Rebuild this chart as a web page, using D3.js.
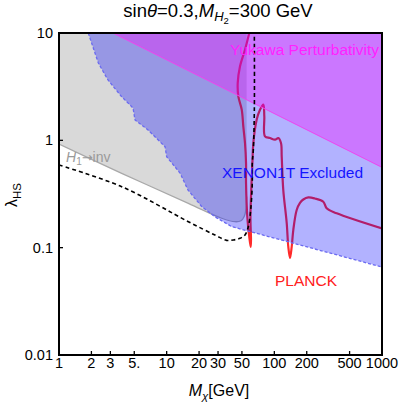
<!DOCTYPE html>
<html><head><meta charset="utf-8">
<script src="https://cdn.jsdelivr.net/npm/d3@7"></script>
<style>body{margin:0;background:#fff}svg{display:block;font-family:"Liberation Sans",Arial,sans-serif}</style>
</head><body><svg id="c" width="399" height="405"></svg>
<script>
// ---- data ----
const xTicks = [1, 2, 3, 5, 10, 20, 30, 50, 100, 200, 500, 1000];
const xTickLabels = ["1", "2", "3", "5.", "10", "20", "30", "50", "100", "200", "500", "1000"];
const yTicks = [0.01, 0.1, 1, 10];
const yTickLabels = ["0.01", "0.1", "1", "10"];

// XENON1T exclusion boundary (region above excluded)
const xenonBoundary = [[1.87,10],[2.32,5.25],[2.85,3.65],[3.82,2.55],[4.87,2.0],[5.08,1.55],[6.71,1.25],[9.66,0.873],[10.0,0.704],[13.3,0.496],[15.8,0.344],[21.2,0.241],[28.1,0.194],[40.2,0.157],[1000,0.066]];
// H1 -> invisible excluded region boundary
const h1invBoundary = [[1,0.924],[3.82,0.493],[15.9,0.259],[32.4,0.188],[43.1,0.1745],[49,0.178],[52.5,0.195],[54.6,0.23],[55.3,0.3],[55.3,10]];
// Yukawa perturbativity boundary
const yukawaBoundary = [[3.17,10],[1000,0.56]];
// PLANCK relic density curve
const planckCurve = [[58.5,10],[53.4,6.99],[48.0,4.89],[45.7,3.42],[46.3,2.57],[49.8,1.93],[51.5,1.35],[53.4,0.944],[54.6,0.615],[54.6,0.400],[56.1,0.1943],[58.5,0.1265],[60.3,0.1014],
  [60.7,0.1179],[60.0,0.1943],[61.4,0.400],[62.7,0.656],[63.8,0.944],[68.6,1.56],[73.6,1.93],[79.0,2.15],[80.7,1.67],[81.9,1.09],[91.1,1.05],[101.4,1.014],[108.8,1.05],[115.3,0.944],[117.1,0.704],[121.1,0.344],[130.3,0.1698],[134.8,0.1021],[139.8,0.0801],[145.0,0.1021],[150.0,0.146],[161.3,0.2244],[173.1,0.261],[185.8,0.281],[206.8,0.294],[238.6,0.287],[284.9,0.268],[306.4,0.2327],[379.6,0.209],[1000,0.1509]];
// black dashed curve
const dashedCurve = [[1,0.589],[3.82,0.37],[15.9,0.1745],[28.1,0.131],[36,0.117],[41.6,0.1179],[48.0,0.1223],[53.4,0.1312],[57.3,0.1568],[60.3,0.2244],[62.4,0.400],[62.4,0.615],[63.8,0.813],[65.2,1.93],[65.2,10]];

// ---- layout ----
const L = 59, R = 382, T = 33, B = 355;
const svg = d3.select("#c");
const x = d3.scaleLog().domain([1, 1000]).range([L, R]);
const y = d3.scaleLog().domain([0.01, 10]).range([B, T]);
const line = d3.line().x(d => x(d[0])).y(d => y(d[1]));
const smooth = d3.line().x(d => x(d[0])).y(d => y(d[1])).curve(d3.curveCatmullRom.alpha(0.5));

svg.append("defs").append("clipPath").attr("id", "clip")
  .append("rect").attr("x", L).attr("y", T).attr("width", R - L).attr("height", B - T);
const g = svg.append("g").attr("clip-path", "url(#clip)");

// gray H1->inv region
g.append("path").attr("d", line([[1,10], ...h1invBoundary, [55.3,10]]) + "Z")
  .attr("fill", "#d9d9d9").attr("stroke", "none");
g.append("path").attr("d", smooth(h1invBoundary.slice(0, 9)))
  .attr("fill", "none").attr("stroke", "#a8a8a8").attr("stroke-width", 1.3);

// PLANCK line (under overlays)
g.append("path").attr("d", smooth(planckCurve))
  .attr("fill", "none").attr("stroke", "#ff2a2a").attr("stroke-width", 2.2).attr("stroke-linejoin", "round");

// XENON region
g.append("path").attr("d", line([...xenonBoundary, [1000,10]]) + "Z")
  .attr("fill", "rgba(0,0,255,0.3)");
// Yukawa region
g.append("path").attr("d", line([...yukawaBoundary, [1000,10]]) + "Z")
  .attr("fill", "rgba(255,0,255,0.33)");

// boundaries
g.append("path").attr("d", line(xenonBoundary))
  .attr("fill", "none").attr("stroke", "#6a6af0").attr("stroke-width", 1.3).attr("stroke-dasharray", "3,2");
g.append("path").attr("d", line(yukawaBoundary))
  .attr("fill", "none").attr("stroke", "#ee44ee").attr("stroke-width", 1);
g.append("path").attr("d", smooth(dashedCurve))
  .attr("fill", "none").attr("stroke", "#000").attr("stroke-width", 1.6).attr("stroke-dasharray", "4,3");

// frame
svg.append("rect").attr("x", L).attr("y", T).attr("width", R - L).attr("height", B - T)
  .attr("fill", "none").attr("stroke", "#000").attr("stroke-width", 2);

// ticks
xTicks.forEach((t, i) => {
  svg.append("line").attr("x1", x(t)).attr("x2", x(t)).attr("y1", B).attr("y2", B - 4)
    .attr("stroke", "#000").attr("stroke-width", 1.3);
  svg.append("text").attr("x", x(t)).attr("y", 368).attr("text-anchor", "middle")
    .attr("font-size", 14.5).text(xTickLabels[i]);
});
yTicks.forEach((t, i) => {
  svg.append("line").attr("x1", L).attr("x2", L + 4).attr("y1", y(t)).attr("y2", y(t))
    .attr("stroke", "#000").attr("stroke-width", 1.3);
  svg.append("text").attr("x", 53).attr("y", y(t) + 5).attr("text-anchor", "end")
    .attr("font-size", 14.5).text(yTickLabels[i]);
});

// title
const title = svg.append("text").attr("x", 218).attr("y", 17).attr("text-anchor", "middle").attr("font-size", 18.5);
title.append("tspan").text("sin");
title.append("tspan").attr("font-style", "italic").text("θ");
title.append("tspan").text("=0.3,");
title.append("tspan").attr("font-style", "italic").text("M");
title.append("tspan").attr("font-style", "italic").attr("font-size", 13).attr("dy", 4).text("H");
title.append("tspan").attr("font-size", 9.5).attr("dy", 3).text("2");
title.append("tspan").attr("dy", -7).text("=300 GeV");

// axis titles
const xl = svg.append("text").attr("x", 219).attr("y", 396).attr("text-anchor", "middle").attr("font-size", 16);
xl.append("tspan").attr("font-style", "italic").text("M");
xl.append("tspan").attr("font-style", "italic").attr("font-size", 11.5).attr("dy", 4).text("χ");
xl.append("tspan").attr("dy", -4).text("[GeV]");

const yl = svg.append("text").attr("transform", "translate(17,195) rotate(-90)").attr("text-anchor", "middle").attr("font-size", 16);
yl.append("tspan").text("λ");
yl.append("tspan").attr("font-size", 11.5).attr("dy", 4).text("HS");

// region labels
svg.append("text").attr("x", 230).attr("y", 55).attr("font-size", 15.5).attr("fill", "#ff22ff").text("Yukawa Perturbativity");
svg.append("text").attr("x", 222).attr("y", 178).attr("font-size", 15.5).attr("fill", "#1515ff").text("XENON1T Excluded");
svg.append("text").attr("x", 275).attr("y", 286).attr("font-size", 15.5).attr("fill", "#ff2020").text("PLANCK");
const hl = svg.append("text").attr("x", 66).attr("y", 162).attr("font-size", 14).attr("fill", "#9a9a9a");
hl.append("tspan").attr("font-style", "italic").text("H");
hl.append("tspan").attr("font-size", 10).attr("dy", 3).text("1");
hl.append("tspan").attr("dy", -3).attr("font-family", "DejaVu Sans").attr("font-size", 13).text("→");
hl.append("tspan").text("inv");
</script></body></html>
